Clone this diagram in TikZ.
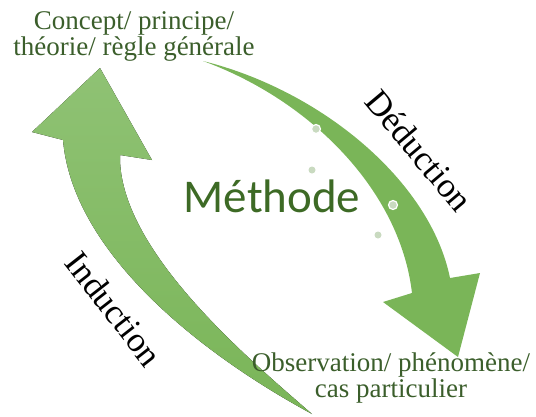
\documentclass[tikz,border=0pt]{standalone}
\usepackage{fontspec}
\setmainfont{Liberation Serif}
\newfontfamily\methodefont{Carlito}
\definecolor{arrowgreen}{HTML}{7AB558}
\definecolor{arrowlight}{HTML}{8FC274}
\definecolor{labelgreen}{HTML}{3B5E2B}
\definecolor{titlegreen}{HTML}{3D6A25}
\definecolor{dotgreen}{HTML}{C9DAC0}

\begin{document}
\begin{tikzpicture}[x=1pt,y=-1pt,
  pole/.style={font=\fontsize{27}{26}\selectfont, text=labelgreen, align=center, inner sep=0pt},
  verb/.style={font=\fontsize{35}{40}\selectfont, text=black, inner sep=0pt, anchor=base west},
  bead/.style={fill=dotgreen, draw=white, line width=1.2pt}]
\useasboundingbox (0,0) rectangle (536,416);

% Induction: curved arrow rising from the particular case to the concept
\fill[top color=arrowlight, bottom color=arrowgreen]
  (120,155) -- (152,160) -- (100,68) -- (32,132) -- (63,140)
  .. controls (72,245) and (185,345) .. (312,414)
  .. controls (250,360) and (118,250) .. (120,155) -- cycle;

% Deduction: curved arrow descending from the concept to the observation
\fill[arrowgreen]
  (203,61) .. controls (320,90) and (430,180) .. (450,278)
  -- (480,273) -- (458,357) -- (383,302) -- (412,293)
  .. controls (400,190) and (310,100) .. (203,61) -- cycle;

% small decorative beads
\filldraw[bead] (316,129) circle (4.5pt);
\fill[dotgreen] (312,170) circle (3.5pt);
\filldraw[bead] (393,205) circle (4.5pt);
\fill[dotgreen] (378,235) circle (3.5pt);

% labels
\node[pole] (conc) at (134,36) {Concept/ principe/\\théorie/ règle générale};
\node[pole] (obs) at (391,378) {Observation/ phénomène/\\cas particulier};
\node[font=\methodefont\fontsize{47}{50}\selectfont, text=titlegreen, inner sep=0pt, anchor=base] (meth) at (272,212) {Méthode};
\node[verb, rotate=-50] (ded) at (363,102) {Déduction};
\node[verb, rotate=-52] (ind) at (63,263) {Induction};
\end{tikzpicture}
\end{document}
